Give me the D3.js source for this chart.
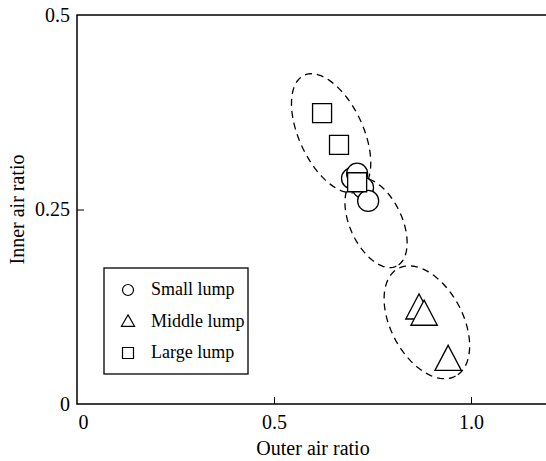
<!DOCTYPE html>
<html>
<head>
<meta charset="utf-8">
<script src="https://cdn.jsdelivr.net/npm/d3@7"></script>
<style>
  body { margin: 0; background: #fff; }
  svg { display: block; }
  text { font-family: "Liberation Serif", "Times New Roman", serif; fill: #000; }
</style>
</head>
<body>
<div id="chart"></div>
<script>
// values
var xTicks = [0, 0.5, 1.0];
var xTickLabels = ['0', '0.5', '1.0'];
var yTicks = [0, 0.25, 0.5];
var yTickLabels = ['0', '0.25', '0.5'];

var smallLump = [[0.698, 0.290], [0.711, 0.296], [0.726, 0.278], [0.739, 0.261]];
var middleLump = [[0.868, 0.120], [0.881, 0.112], [0.942, 0.054]];
var largeLump = [[0.622, 0.374], [0.665, 0.333], [0.711, 0.285]];

// dashed groups: centre (data), semi axes (px), tilt (deg)
var groups = [
  { cx: 0.645, cy: 0.348, a: 64, b: 32, tilt: 65 },
  { cx: 0.759, cy: 0.233, a: 48, b: 26, tilt: 65 },
  { cx: 0.888, cy: 0.105, a: 61, b: 36, tilt: 62 }
];

var legendNames = ['Small lump', 'Middle lump', 'Large lump'];

(function() {
  var width = 546, height = 461;
  var x0 = 77, y0 = 404, y1 = 15, unitX = 394;

  var svg = d3.select('#chart').append('svg')
    .attr('width', width)
    .attr('height', height);

  var x = d3.scaleLinear().domain([0, 1]).range([x0, x0 + unitX]);
  var y = d3.scaleLinear().domain([0, 0.5]).range([y0, y1]);

  // frame (left, top, bottom)
  svg.append('path')
    .attr('d', 'M' + width + ',' + y(0.5) + 'H' + x(0) + 'V' + y(0) + 'H' + width)
    .attr('fill', 'none')
    .attr('stroke', '#000')
    .attr('stroke-width', 1.5);

  var xAxis = d3.axisBottom(x).tickValues(xTicks).tickSize(-7).tickPadding(10)
    .tickFormat(function(d, i) { return xTickLabels[i]; });
  var gx = svg.append('g').attr('transform', 'translate(0,' + y(0) + ')').call(xAxis);
  gx.select('.domain').remove();
  gx.selectAll('.tick line').attr('stroke', '#000').attr('stroke-width', 1);
  gx.selectAll('.tick text').attr('font-size', 20).attr('font-family', 'Liberation Serif').attr('dy', '0.75em');
  gx.selectAll('.tick').filter(function(d) { return d === 0; })
    .call(function(t) { t.select('line').remove(); t.select('text').attr('dx', 6); });

  var yAxis = d3.axisLeft(y).tickValues(yTicks).tickSize(-7).tickPadding(7)
    .tickFormat(function(d, i) { return yTickLabels[i]; });
  var gy = svg.append('g').attr('transform', 'translate(' + x(0) + ',0)').call(yAxis);
  gy.select('.domain').remove();
  gy.selectAll('.tick line').attr('stroke', '#000').attr('stroke-width', 1);
  gy.selectAll('.tick text').attr('font-size', 20).attr('font-family', 'Liberation Serif');
  gy.selectAll('.tick').filter(function(d) { return d !== 0.25; }).select('line').remove();

  svg.append('text')
    .attr('x', 313)
    .attr('y', 455)
    .attr('text-anchor', 'middle')
    .attr('font-size', 20)
    .text('Outer air ratio');

  svg.append('text')
    .attr('transform', 'translate(24,' + y(0.25) + ') rotate(-90)')
    .attr('text-anchor', 'middle')
    .attr('font-size', 20)
    .text('Inner air ratio');

  // dashed ellipses
  var line = d3.line();
  groups.forEach(function(g) {
    var c = [x(g.cx), y(g.cy)], t = g.tilt * Math.PI / 180;
    var pts = d3.range(0, 361, 4).map(function(deg) {
      var p = deg * Math.PI / 180;
      var u = g.a * Math.cos(p), v = g.b * Math.sin(p);
      return [c[0] + u * Math.cos(t) - v * Math.sin(t), c[1] + u * Math.sin(t) + v * Math.cos(t)];
    });
    svg.append('path')
      .attr('d', line(pts) + 'Z')
      .attr('fill', 'none')
      .attr('stroke', '#000')
      .attr('stroke-width', 1.3)
      .attr('stroke-dasharray', '7,5');
  });

  var symCircle = d3.symbol().type(d3.symbolCircle).size(Math.PI * 10.5 * 10.5);
  var symTri = d3.symbol().type(d3.symbolTriangle).size(300);
  var symSquare = d3.symbol().type(d3.symbolSquare).size(19 * 19);
  var symbols = [symCircle, symTri, symSquare];
  var series = [smallLump, middleLump, largeLump];

  series.forEach(function(data, i) {
    svg.append('g').selectAll('path')
      .data(data)
      .enter().append('path')
      .attr('transform', function(d) {
        return 'translate(' + x(d[0]) + ',' + y(d[1]) + ')' + (i === 1 ? ' scale(1,1.1)' : '');
      })
      .attr('d', symbols[i]())
      .attr('fill', '#fff')
      .attr('stroke', '#000')
      .attr('stroke-width', 1.3);
  });

  // legend
  var lg = svg.append('g').attr('transform', 'translate(104,268)');
  lg.append('rect')
    .attr('width', 144).attr('height', 106)
    .attr('fill', '#fff').attr('stroke', '#000').attr('stroke-width', 1.3);
  var legendSyms = [
    d3.symbol().type(d3.symbolCircle).size(Math.PI * 5.5 * 5.5),
    d3.symbol().type(d3.symbolTriangle).size(75),
    d3.symbol().type(d3.symbolSquare).size(11 * 11)
  ];
  legendNames.forEach(function(name, i) {
    var row = lg.append('g').attr('transform', 'translate(0,' + (22 + i * 31.5) + ')');
    row.append('path')
      .attr('transform', 'translate(24,0)' + (i === 1 ? ' translate(0,1)' : ''))
      .attr('d', legendSyms[i]())
      .attr('fill', '#fff').attr('stroke', '#000').attr('stroke-width', 1.2);
    row.append('text')
      .attr('x', 47).attr('y', 5)
      .attr('font-size', 18)
      .text(name);
  });
})();
</script>
</body>
</html>
